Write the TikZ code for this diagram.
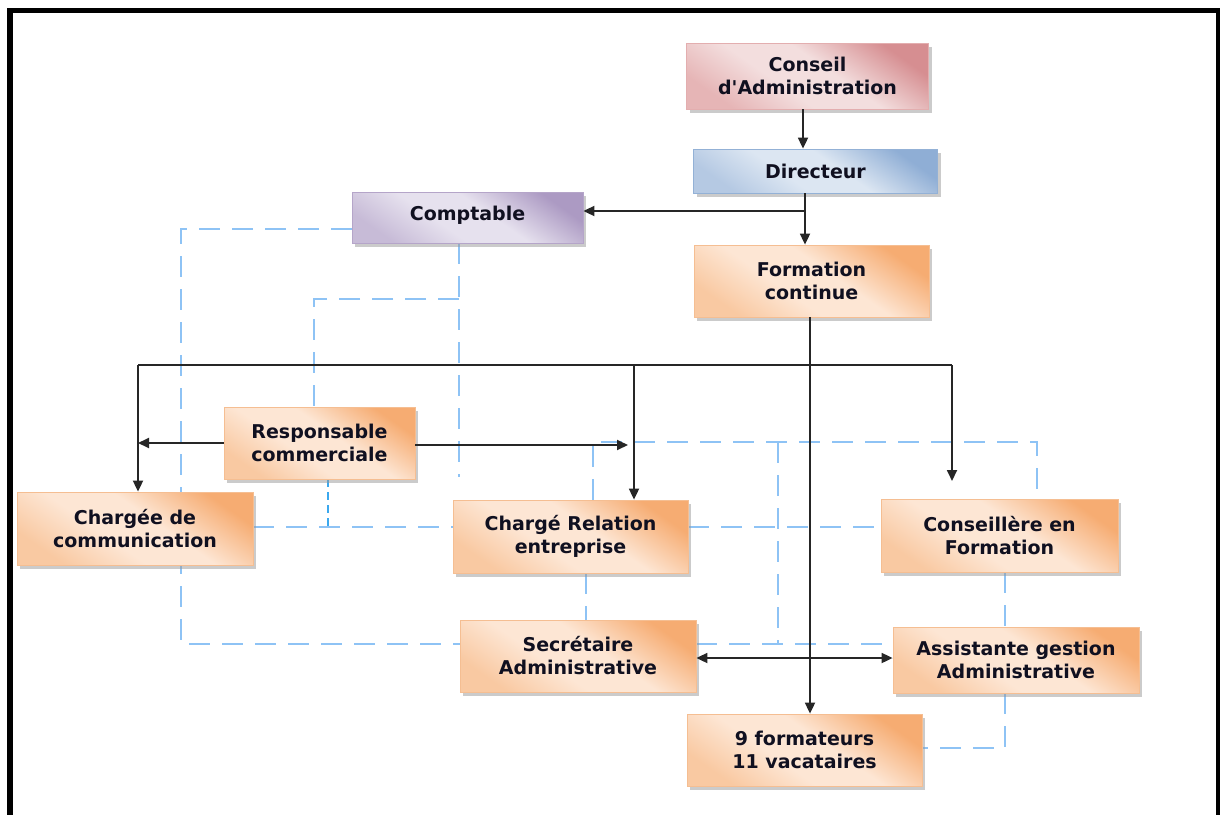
\documentclass[tikz,border=0pt]{standalone}
\usepackage{fontspec}
\newfontfamily\boxfont{DejaVu Sans}
\usetikzlibrary{arrows.meta,shadows}
\definecolor{orD}{HTML}{F6AC72}
\definecolor{orL}{HTML}{FDE6D4}
\definecolor{orM}{HTML}{F9C9A2}
\definecolor{orB}{HTML}{F5BE92}
\definecolor{pkD}{HTML}{D68E91}
\definecolor{pkL}{HTML}{F3DEDE}
\definecolor{pkM}{HTML}{E6B5B6}
\definecolor{pkB}{HTML}{E3AEAF}
\definecolor{blD}{HTML}{8FAED5}
\definecolor{blL}{HTML}{DCE6F2}
\definecolor{blM}{HTML}{B5C9E3}
\definecolor{blB}{HTML}{93B1D6}
\definecolor{puD}{HTML}{AC9AC3}
\definecolor{puL}{HTML}{E6E1EE}
\definecolor{puM}{HTML}{C7BBD7}
\definecolor{puB}{HTML}{B5A5C9}
\definecolor{dashc}{HTML}{8EC3F5}
\definecolor{dashd}{HTML}{3BA8EE}
\definecolor{txt}{HTML}{101020}
\pgfdeclareverticalshading{shor}{100bp}{color(0bp)=(orM); color(25bp)=(orM); color(42bp)=(orL); color(56bp)=(orL); color(75bp)=(orD); color(100bp)=(orD)}
\pgfdeclareverticalshading{shpk}{100bp}{color(0bp)=(pkM); color(25bp)=(pkM); color(42bp)=(pkL); color(56bp)=(pkL); color(75bp)=(pkD); color(100bp)=(pkD)}
\pgfdeclareverticalshading{shbl}{100bp}{color(0bp)=(blM); color(25bp)=(blM); color(42bp)=(blL); color(56bp)=(blL); color(75bp)=(blD); color(100bp)=(blD)}
\pgfdeclareverticalshading{shpu}{100bp}{color(0bp)=(puM); color(25bp)=(puM); color(42bp)=(puL); color(56bp)=(puL); color(75bp)=(puD); color(100bp)=(puD)}
\pgfdeclarelayer{bg}
\pgfsetlayers{bg,main}
\tikzset{
  boxbase/.style={inner sep=0pt, align=center, text=txt,
    font=\boxfont\bfseries\fontsize{19}{23}\selectfont, line width=0.8pt,
    drop shadow={shadow xshift=3pt, shadow yshift=-3.5pt, fill=black!40, opacity=0.5}},
  orbox/.style={boxbase, draw=orB, shade, shading=shor, shading angle=-35},
  pkbox/.style={boxbase, draw=pkB, shade, shading=shpk, shading angle=-35},
  blbox/.style={boxbase, draw=blB, shade, shading=shbl, shading angle=-35},
  pubox/.style={boxbase, draw=puB, shade, shading=shpu, shading angle=-35},
  arr/.style={line width=1.8pt, draw=black!85, -{Triangle[length=11pt,width=10pt]}},
  darr/.style={line width=1.8pt, draw=black!85, {Triangle[length=11pt,width=10pt]}-{Triangle[length=11pt,width=10pt]}},
  plain/.style={line width=1.8pt, draw=black!85},
  dline/.style={draw=dashc, line width=1.7pt, dash pattern=on 21pt off 12pt},
  dfine/.style={draw=dashd, line width=1.4pt, dash pattern=on 8pt off 5pt},
  frame/.style={line width=5.5pt, line join=miter}
}
\begin{document}
\begin{tikzpicture}[x=1pt,y=-1pt]
\useasboundingbox (0,0) rectangle (1220,814);
\begin{pgfonlayer}{bg}
\fill[white] (0,0) rectangle (1220,814);
\end{pgfonlayer}

% helper coordinates
\coordinate (v1) at (803,0);
\coordinate (v2) at (805,0);
\coordinate (jc) at (805,211);
\coordinate (v3) at (810,0);
\coordinate (bL) at (138,365);
\coordinate (bM) at (634,365);
\coordinate (bR) at (952,365);
\coordinate (cTip) at (952,481);
\coordinate (rTip) at (628,445);
\coordinate (sa) at (0,658);
\coordinate (dA1) at (181,229);
\coordinate (dA2) at (181,644);
\coordinate (dB1) at (459,299);
\coordinate (dB2) at (459,477);
\coordinate (dB3) at (314,299);
\coordinate (dC) at (328,527);
\coordinate (dD) at (0,527);
\coordinate (dE1) at (593,442);
\coordinate (dE2) at (1037,442);
\coordinate (dE3) at (778,442);
\coordinate (dE4) at (778,644);
\coordinate (dG) at (1005,748);
\coordinate (dH) at (586,0);

% boxes
\path
  (807.5,76)   node[pkbox, minimum width=242pt, minimum height=66pt] (conseil) {Conseil\\d'Administration}
  (815.5,171)  node[blbox, minimum width=244pt, minimum height=44pt] (directeur) {Directeur}
  (467.5,217.5) node[pubox, minimum width=231pt, minimum height=51pt, text depth=9pt] (comptable) {Comptable}
  (811.5,281)  node[orbox, minimum width=235pt, minimum height=72pt] (formation) {Formation\\continue}
  (319.5,443)  node[orbox, minimum width=191pt, minimum height=72pt] (respo) {Responsable\\commerciale}
  (135,528.5)  node[orbox, minimum width=236pt, minimum height=73pt] (chargee) {Chargée de\\communication}
  (570.5,536.5) node[orbox, minimum width=235pt, minimum height=73pt] (chargerel) {Chargé Relation\\entreprise}
  (999.5,535.5) node[orbox, minimum width=237pt, minimum height=73pt] (conseillere) {Conseillère en\\Formation}
  (578,656)    node[orbox, minimum width=236pt, minimum height=72pt] (secretaire) {Secrétaire\\Administrative}
  (1016,660)   node[orbox, minimum width=246pt, minimum height=66pt] (assistante) {Assistante gestion\\Administrative}
  (804.5,750)  node[orbox, minimum width=235pt, minimum height=72pt] (formateurs) {9 formateurs\\11 vacataires};

% dashed links, behind the boxes
\begin{pgfonlayer}{bg}
\draw[dline] (comptable.west |- dA1) -- (dA1) -- (dA2) -- (dA2 -| secretaire.west);
\draw[dline] (comptable.south -| dB1) -- (dB2);
\draw[dline] (dB1) -- (dB3) -- (dB3 |- respo.north);
\draw[dfine] (respo.south -| dC) -- (dC);
\draw[dline] (chargee.east |- dD) -- (chargerel.west |- dD);
\draw[dline] (chargerel.east |- dD) -- (conseillere.west |- dD);
\draw[dline] (chargerel.north -| dE1) -- (dE1) -- (dE2) -- (conseillere.north -| dE2);
\draw[dline] (dE3) -- (dE4);
\draw[dline] (secretaire.east |- dA2) -- (assistante.west |- dA2);
\draw[dline] (conseillere.south -| dG) -- (assistante.north -| dG);
\draw[dline] (assistante.south -| dG) -- (dG) -- (dG -| formateurs.east);
\draw[dline] (chargerel.south -| dH) -- (secretaire.north -| dH);
\end{pgfonlayer}

% solid connectors
\draw[arr] (conseil.south -| v1) -- (directeur.north -| v1);
\draw[arr] (directeur.south -| v2) -- (formation.north -| v2);
\draw[arr] (jc) -- (jc -| comptable.east);
\draw[arr] (formation.south -| v3) -- (formateurs.north -| v3);
\draw[plain] (bL) -- (bR);
\draw[arr] (bL) -- (bL |- chargee.north);
\draw[arr] (bM) -- (bM |- chargerel.north);
\draw[arr] (bR) -- (cTip);
\draw[arr] (respo.west) -- (respo.west -| bL);
\draw[arr] (respo.east |- rTip) -- (rTip);
\draw[darr] (secretaire.east |- sa) -- (assistante.west |- sa);

% frame
\draw[frame] (10,840) -- (10,10.5) -- (1219,10.5) -- (1219,840);
\end{tikzpicture}
\end{document}
